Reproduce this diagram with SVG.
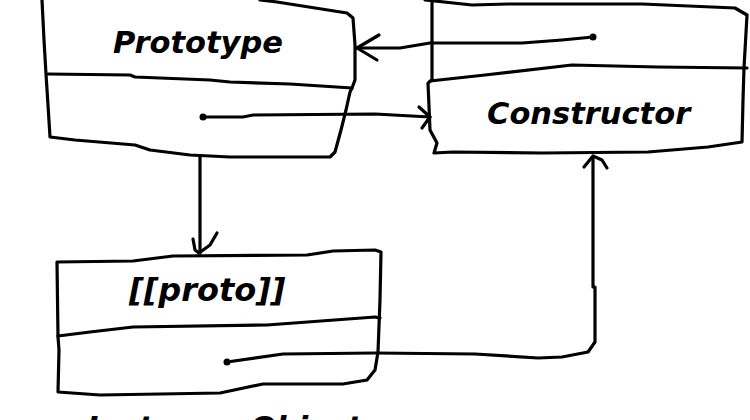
<svg xmlns="http://www.w3.org/2000/svg" width="750" height="420" viewBox="0 0 750 420">
<style>
.ln{fill:none;stroke:#000;stroke-width:3.2;stroke-linecap:round;stroke-linejoin:round}
.lb{font-family:"DejaVu Sans",Verdana,sans-serif;font-weight:bold;font-style:italic;font-size:30.5px;fill:#000}
</style>
<rect width="750" height="420" fill="#fff"/>
<g id="prototype">
<path class="ln" d="M42,0 L44,40 L46,74 L48,105 L50,137 L75,140 L135,145 L150,150 L190,155 L230,157 L330,157 L335,152 L341,130 L346,110 L350,92 L352,88 L355,80 L355,45 L353,18 L347,13 L277,2 L260,0"/>
<path class="ln" d="M48,74 L130,75 L135,77 L210,80 L230,82 L290,84 L352,88"/>
<text class="lb" x="113" y="53">Prototype</text>
</g>
<g id="constructor">
<path class="ln" d="M432,0 L432,80 L428,83 L430,130 L437,143 L434,153 L453,152 L542,153 L648,152 L708,147 L742,142 L743,100 L744,68 L747,15 L735,8 L642,4 L508,4 L472,5 L425,0"/>
<path class="ln" d="M430,81 L485,75 L572,65 L658,67 L747,68"/>
<text class="lb" x="487" y="124">Constructor</text>
</g>
<g id="instance">
<path class="ln" d="M57,262 L133,261 L173,256 L307,255 L333,251 L375,250 L381,252 L380,300 L378,352 L375,370 L367,380 L343,384 L263,384 L220,393 L160,394 L100,395 L58,392 L59,350 L58,337 L57,262"/>
<path class="ln" d="M58,336 L90,332 L133,327 L267,325 L375,317 L380,318"/>
<text class="lb" x="129" y="301" style="font-size:32px">[[proto]]</text>
<text class="lb" y="438"><tspan x="87">Instance</tspan><tspan x="250">Object</tspan></text>
</g>
<g id="connectors">
<circle cx="593" cy="37" r="3.5"/>
<path class="ln" d="M593,37 L562,40 L522,43 L430,43 L400,48 L357,48"/>
<path class="ln" d="M379,35 L357,48 L377,60"/>
<circle cx="203" cy="117" r="3.5"/>
<path class="ln" d="M203,117 L243,117 L253,115 L375,114 L430,117"/>
<path class="ln" d="M419,107 L430,117 L422,128"/>
<path class="ln" d="M200,157 L200,253"/>
<path class="ln" d="M193,239 L195,250 L199,253 L210,245 L217,233"/>
<circle cx="227" cy="362" r="3.5"/>
<path class="ln" d="M227,362 L283,354 L375,353 L475,354 L538,358 L562,357 L588,352 L595,342 L595,287 L593,287 L593,157"/>
<path class="ln" d="M584,167 L593,156 L602,160 L607,168"/>
</g>
</svg>
